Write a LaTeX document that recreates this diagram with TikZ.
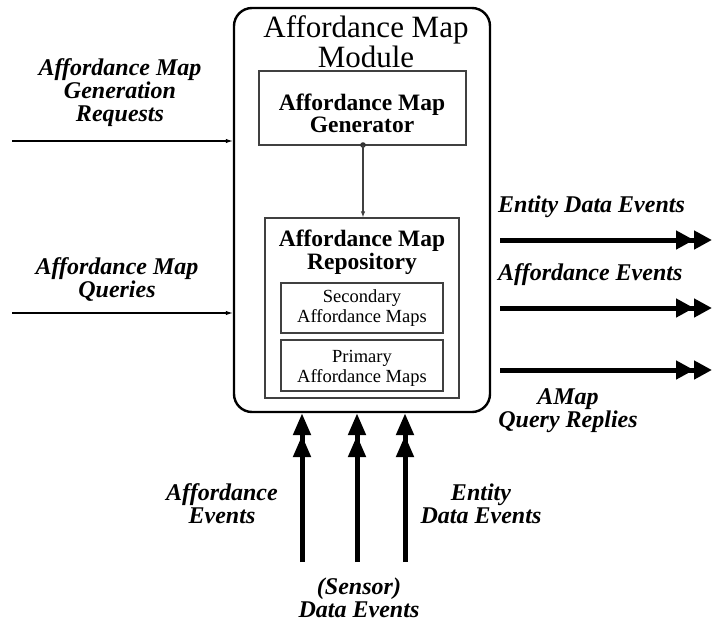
\documentclass[tikz,border=0pt]{standalone}
\usepackage{fontspec}
\setmainfont{Liberation Serif}
\usetikzlibrary{arrows.meta}
\begin{document}
\begin{tikzpicture}[x=1pt,y=-1pt,
  extlabel/.style={font=\fontsize{24}{23}\selectfont\bfseries\itshape, align=center, inner sep=0pt, anchor=base},
  innerbox/.style={draw=black!75, line width=1.2pt, inner sep=0pt},
  thinin/.style={line width=1.1pt, -{Latex[length=7pt,width=4.5pt]}},
  thickout/.style={line width=5pt, -{Triangle[length=18pt,width=18pt]Triangle[length=18pt,width=18pt]}},
  thickup/.style={line width=5pt, -{Triangle[length=22pt,width=17pt]Triangle[length=22pt,width=17pt]}}]
\useasboundingbox (0,0) rectangle (712,624);

% module and its parts (multi-line texts are placed by their last baseline)
\node[draw, line width=2.4pt, rounded corners=18pt, minimum width=256pt, minimum height=404pt, inner sep=0pt] (module) at (362,210) {};
\node[font=\fontsize{31}{30}\selectfont, align=center, inner sep=0pt, anchor=base] (title) at (366,67) {Affordance Map\\Module};

\node[innerbox, minimum width=207pt, minimum height=74pt] (gen) at (362.5,108) {};
\node[font=\fontsize{23.5}{22}\selectfont\bfseries, align=center, inner sep=0pt, anchor=base] (gentext) at (362,132) {Affordance Map\\Generator};

\node[innerbox, minimum width=194pt, minimum height=180pt] (repo) at (362,308) {};
\node[font=\fontsize{23.5}{21}\selectfont\bfseries, align=center, inner sep=0pt, anchor=base] (repotext) at (362,269) {Affordance Map\\Repository};

\node[innerbox, minimum width=162pt, minimum height=50pt] (sec) at (362,308) {};
\node[font=\fontsize{18.5}{20}\selectfont, align=center, inner sep=0pt, anchor=base] (sectext) at (362,322) {Secondary\\Affordance Maps};
\node[innerbox, minimum width=162pt, minimum height=51pt] (prim) at (362,365.5) {};
\node[font=\fontsize{18.5}{20}\selectfont, align=center, inner sep=0pt, anchor=base] (primtext) at (362,382) {Primary\\Affordance Maps};

% generator feeds the repository
\coordinate (gendot) at (363,145);
\fill[black!80] (gendot) circle (2.8pt);
\draw[black!75, line width=1.3pt, -{Latex[length=6pt,width=4.5pt]}] (gendot) -- (gendot |- repo.north);

% inputs on the left
\coordinate (reqin) at (12,141);
\coordinate (qin) at (12,313);
\draw[thinin] (reqin) -- (reqin -| module.west);
\draw[thinin] (qin) -- (qin -| module.west);
\node[extlabel] (reqlab) at (120,121) {Affordance Map\\Generation\\Requests};
\node[extlabel] (qlab) at (117,297) {Affordance Map\\Queries};

% outputs on the right
\coordinate (edeS) at (500,240) ; \coordinate (edeE) at (712,240);
\coordinate (aeS) at (500,308) ; \coordinate (aeE) at (712,308);
\coordinate (qrS) at (500,370) ; \coordinate (qrE) at (712,370);
\draw[thickout] (edeS) -- (edeE);
\draw[thickout] (aeS) -- (aeE);
\draw[thickout] (qrS) -- (qrE);
\node[extlabel, anchor=base west] (edelab) at (498,212) {Entity Data Events};
\node[extlabel, anchor=base west] (aelab) at (498,280) {Affordance Events};
\node[extlabel] (qrlab) at (568,427) {AMap\\Query Replies};

% inputs from below
\coordinate (aeB) at (302,562);
\coordinate (sdB) at (357,562);
\coordinate (edB) at (405,562);
\draw[thickup] (aeB) -- (aeB |- module.south);
\draw[thickup] (sdB) -- (sdB |- module.south);
\draw[thickup] (edB) -- (edB |- module.south);
\node[extlabel] (aeblab) at (222,523) {Affordance\\Events};
\node[extlabel] (edblab) at (481,523) {Entity\\Data Events};
\node[extlabel] (sdblab) at (359,617) {(Sensor)\\Data Events};
\end{tikzpicture}
\end{document}
